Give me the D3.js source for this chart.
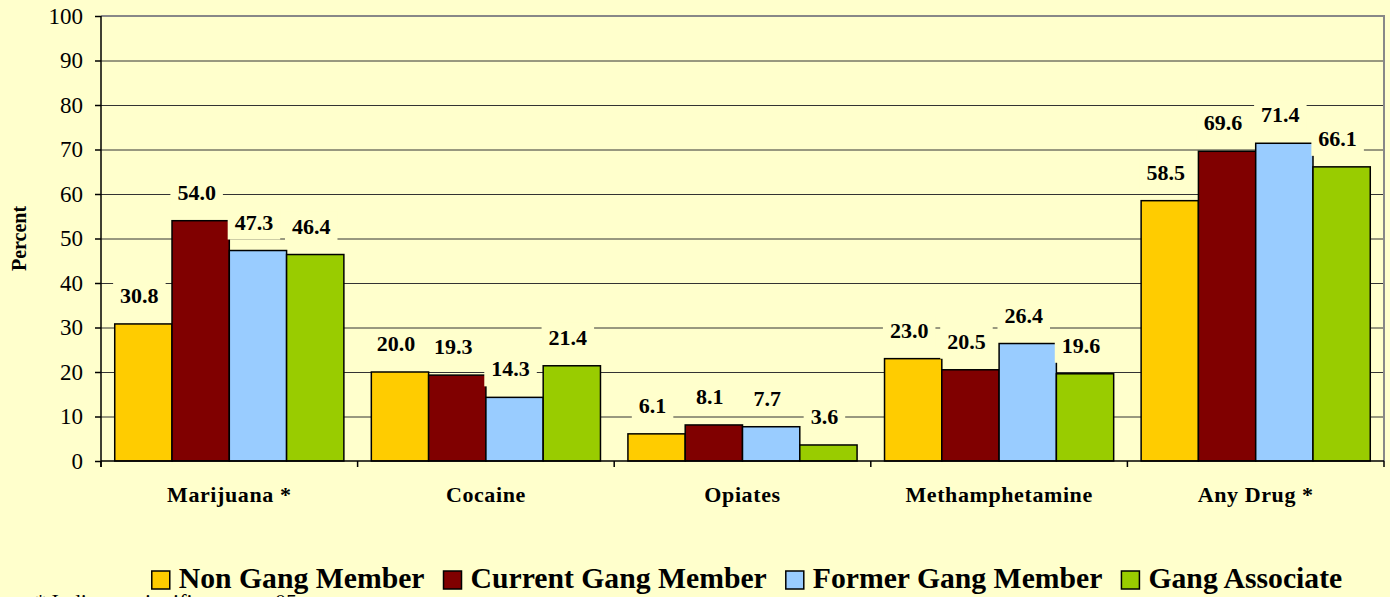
<!DOCTYPE html>
<html>
<head>
<meta charset="utf-8">
<script src="https://cdn.jsdelivr.net/npm/d3@7"></script>
<style>
  body { margin: 0; padding: 0; background: #FFFFCC; overflow: hidden; }
  svg { display: block; }
  svg text { font-family: "Liberation Serif", "Tinos", "DejaVu Serif", serif; }
</style>
</head>
<body>
<div id="chart"></div>
<script>
  // data
  const categories = ["Marijuana *", "Cocaine", "Opiates", "Methamphetamine", "Any Drug *"];
  const seriesNames = ["Non Gang Member", "Current Gang Member", "Former Gang Member", "Gang Associate"];
  const nonGang   = [30.8, 20.0, 6.1, 23.0, 58.5];
  const current   = [54.0, 19.3, 8.1, 20.5, 69.6];
  const former    = [47.3, 14.3, 7.7, 26.4, 71.4];
  const associate = [46.4, 21.4, 3.6, 19.6, 66.1];
  const yTicks = [0, 10, 20, 30, 40, 50, 60, 70, 80, 90, 100];
  const colors = ["#FFCC00", "#800000", "#99CCFF", "#99CC00"];
  const footnote = "* Indicates significance at .05";

  const series = [nonGang, current, former, associate];

  const W = 1390, H = 597;
  const plotL = 101, plotR = 1384, plotT = 16, plotB = 461;

  const svg = d3.select("#chart").append("svg")
      .attr("width", W).attr("height", H);

  const x = d3.scaleBand().domain(categories).range([plotL, plotR]).paddingInner(0).paddingOuter(0);
  const y = d3.scaleLinear().domain([0, 100]).range([plotB, plotT]);
  const inset = x.bandwidth() * 0.0535;
  const xs = d3.scaleBand().domain(d3.range(series.length))
      .range([inset, x.bandwidth() - inset]).padding(0);

  // gridlines
  svg.append("g")
    .selectAll("line")
    .data(yTicks.filter(t => t > 0 && t < 100))
    .enter().append("line")
      .attr("x1", plotL).attr("x2", plotR)
      .attr("y1", d => y(d) + 0.5).attr("y2", d => y(d) + 0.5)
      .attr("stroke", "#333").attr("stroke-width", 1);

  // plot frame (top and right in gray)
  svg.append("path")
    .attr("d", `M${plotL},${y(100)}H${plotR}V${plotB}`)
    .attr("fill", "none").attr("stroke", "#888").attr("stroke-width", 2);

  // bars
  const groups = svg.append("g").selectAll("g")
    .data(categories)
    .enter().append("g")
      .attr("transform", d => `translate(${x(d)},0)`);

  groups.selectAll("rect")
    .data((c, i) => series.map((s, k) => ({ k: k, v: s[i] })))
    .enter().append("rect")
      .attr("x", d => xs(d.k))
      .attr("width", xs.bandwidth())
      .attr("y", d => y(d.v))
      .attr("height", d => y(0) - y(d.v))
      .attr("fill", d => colors[d.k])
      .attr("stroke", "#000").attr("stroke-width", 1.5);

  // value labels with background boxes covering gridlines
  const labels = groups.selectAll("g.lab")
    .data((c, i) => series.map((s, k) => ({ k: k, v: s[i] })))
    .enter().append("g").attr("class", "lab");

  labels.each(function(d) {
    const g = d3.select(this);
    const cx = xs(d.k) + xs.bandwidth() / 2 - 4;
    const base = y(d.v) - 21;
    const t = g.append("text")
      .attr("x", cx).attr("y", base)
      .attr("text-anchor", "middle")
      .attr("font-size", 22).attr("font-weight", "bold")
      .text(d.v.toFixed(1));
    const w = t.node().getComputedTextLength();
    g.insert("rect", "text")
      .attr("x", cx - w / 2 - 7).attr("y", base - 22)
      .attr("width", w + 14).attr("height", 32)
      .attr("fill", "#FFFFCC");
  });

  // axes
  const yAxis = d3.axisLeft(y).tickValues(yTicks).tickSize(6).tickPadding(12);
  svg.append("g")
    .attr("transform", `translate(${plotL},0)`)
    .call(yAxis)
    .call(g => g.selectAll("text").attr("font-size", 23).attr("fill", "#000"))
    .call(g => g.selectAll("line, path").attr("stroke", "#000").attr("stroke-width", 1.5))
    .call(g => g.select(".domain").attr("d", `M0,${plotT}V${plotB + 6}`));

  const xAxis = d3.axisBottom(x).tickSize(0).tickPadding(30);
  svg.append("g")
    .attr("transform", `translate(0,${plotB})`)
    .call(xAxis)
    .call(g => g.select(".domain").attr("stroke", "#000").attr("stroke-width", 1.5).attr("d", `M${plotL},0H${plotR}`))
    .call(g => g.selectAll("text").attr("font-size", 22).attr("font-weight", "bold")
      .attr("letter-spacing", 0.6).attr("fill", "#000").attr("dy", "0").attr("y", 41));

  // category separator ticks
  svg.append("g").selectAll("line")
    .data(categories.map(c => x(c)).concat([plotR]))
    .enter().append("line")
      .attr("x1", d => d).attr("x2", d => d)
      .attr("y1", plotB).attr("y2", plotB + 6)
      .attr("stroke", "#000").attr("stroke-width", 1.5);

  // y axis title
  svg.append("text")
    .attr("transform", `translate(26,${(plotT + plotB) / 2}) rotate(-90)`)
    .attr("text-anchor", "middle")
    .attr("font-size", 20).attr("font-weight", "bold")
    .text("Percent");

  // footnote, mostly hidden below the bottom edge as in the original
  svg.append("text")
    .attr("x", 35).attr("y", 609)
    .attr("font-size", 22)
    .text(footnote);

  // legend
  const legend = svg.append("g");
  let lx = 0;
  seriesNames.forEach((name, k) => {
    const g = legend.append("g");
    g.append("rect")
      .attr("x", 0).attr("y", -17).attr("width", 18).attr("height", 18)
      .attr("fill", colors[k]).attr("stroke", "#000").attr("stroke-width", 1.5);
    const t = g.append("text")
      .attr("x", 27).attr("y", 0)
      .attr("font-size", 29.7).attr("font-weight", "bold")
      .text(name);
    const w = 27 + t.node().getComputedTextLength();
    g.attr("transform", `translate(${lx},0)`);
    lx += w + 19;
  });
  const total = lx - 19;
  legend.attr("transform", `translate(${747 - total / 2},588)`);
</script>
</body>
</html>
